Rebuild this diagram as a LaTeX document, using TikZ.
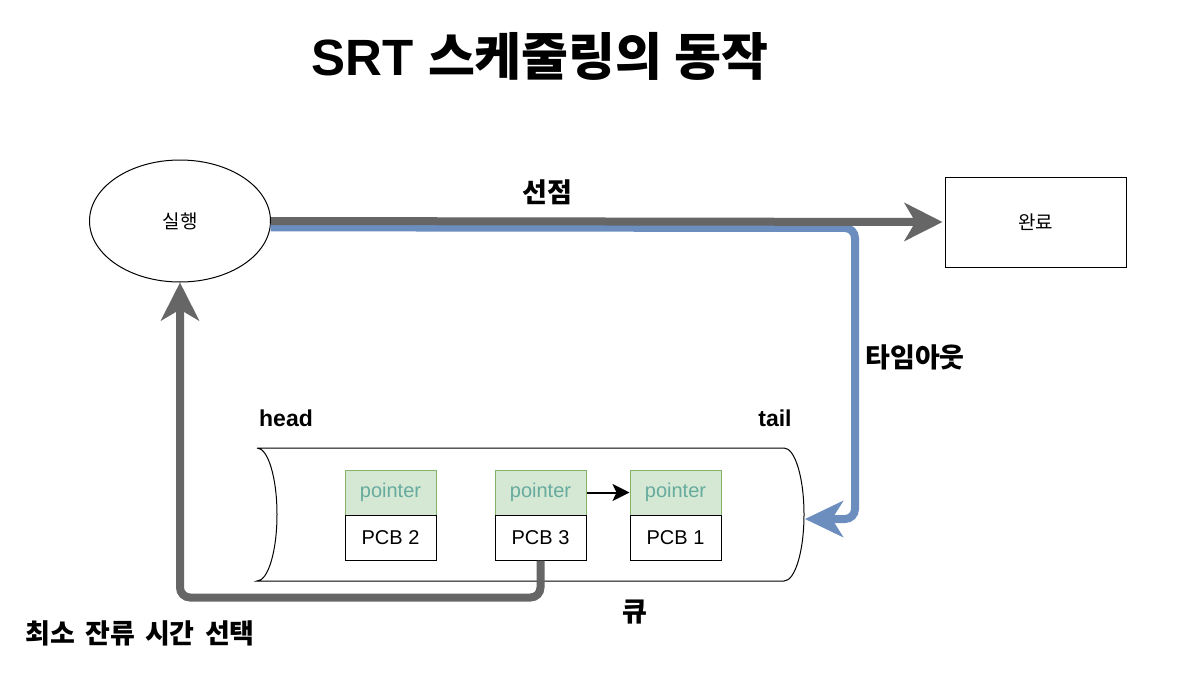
\documentclass[tikz,border=0pt]{standalone}
\usepackage{fontspec}
\setmainfont{Liberation Sans}
\newfontfamily\cjk{Noto Sans CJK KR}
\usetikzlibrary{arrows.meta,shapes.geometric}
\definecolor{grayline}{HTML}{666666}
\definecolor{blueline}{HTML}{6C8EBF}
\definecolor{ptrfill}{HTML}{D5E8D4}
\definecolor{ptrdraw}{HTML}{82B366}
\definecolor{ptrtext}{HTML}{67AB9F}
\tikzset{
  graystroke/.style={draw=grayline, line width=8pt, -{Stealth[length=38pt,width=38pt,inset=11pt]}},
  bluestroke/.style={draw=blueline, line width=8pt, -{Stealth[length=38pt,width=36pt,inset=11pt]}},
  ptrbox/.style={draw=ptrdraw, fill=ptrfill, line width=1pt, minimum width=91pt, minimum height=45pt, inner sep=0pt, text=ptrtext, font=\fontsize{20}{24}\selectfont},
  pcbbox/.style={draw=black, fill=white, line width=1pt, minimum width=91pt, minimum height=45pt, inner sep=0pt, font=\fontsize{20}{24}\selectfont},
  lbl/.style={font=\fontsize{27}{32}\selectfont\cjk\bfseries, inner sep=0pt},
  latinlbl/.style={font=\fontsize{23}{27}\selectfont\bfseries, inner sep=0pt},
}
\begin{document}
\begin{tikzpicture}[x=1pt,y=-1pt]
\useasboundingbox[fill=white] (0,0) rectangle (1177,688);

\node[inner sep=0pt] (title) at (540,56) {\fontsize{51}{58}\selectfont\bfseries SRT {\cjk 스케줄링의 동작}};

\node[ellipse, draw, fill=white, line width=1pt, minimum width=181pt, minimum height=122pt, inner sep=0pt, font=\fontsize{19}{22}\selectfont\cjk] (run) at (180,221) {실행};
\node[draw, fill=white, line width=1pt, minimum width=181pt, minimum height=90pt, inner sep=0pt, font=\fontsize{19}{22}\selectfont\cjk] (done) at (1035.5,222) {완료};

% queue cylinder
\draw[fill=white, line width=1pt] (257,448) -- (784,448)
  arc[start angle=90, end angle=-90, x radius=20pt, y radius=66.5pt]
  -- (257,581)
  arc[start angle=-90, end angle=90, x radius=20pt, y radius=66.5pt];
\coordinate (qright) at (805,519);

\node[ptrbox] (ptr2) at (390.5,492.5) {\raisebox{-3pt}{pointer}};
\node[pcbbox] (pcb2) at (390.5,537.5) {PCB 2};
\node[ptrbox] (ptr3) at (540.5,492.5) {\raisebox{-3pt}{pointer}};
\node[pcbbox] (pcb3) at (540.5,537.5) {PCB 3};
\node[ptrbox] (ptr1) at (675.5,492.5) {\raisebox{-3pt}{pointer}};
\node[pcbbox] (pcb1) at (675.5,537.5) {PCB 1};

\draw[line width=2pt, -{Stealth[length=17pt,width=17pt,inset=4pt]}] (ptr3.east) -- (ptr1.west);

% connectors
\draw[bluestroke, rounded corners=10pt] (run.-4.5) -- (855,228) -- (855,519) -- (qright);
\draw[graystroke, shorten >=2pt] (run.east) -- (done.west);
\draw[graystroke, rounded corners=10pt] (pcb3.south) -- ++(0,37) -| (run.south);

% labels
\node[lbl] (preempt) at (547,192) {선점};
\node[lbl] (timeout) at (915,357) {타임아웃};
\node[latinlbl] (head) at (286,418) {head};
\node[latinlbl] (tail) at (775,418) {tail};
\node[lbl] (select) at (140,633) {최소\hspace{0.38em}잔류\hspace{0.38em}시간\hspace{0.38em}선택};
\node[lbl] (queue) at (635,612) {큐};
\end{tikzpicture}
\end{document}
